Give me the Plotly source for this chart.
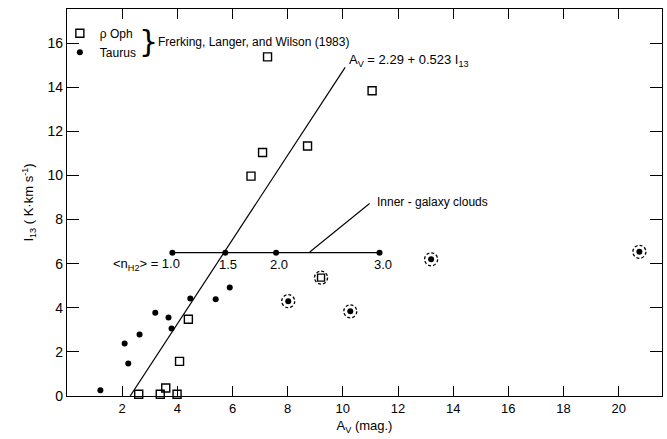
import plotly.graph_objects as go

# ---- data ----
taurus_x = [1.21, 2.09, 2.22, 2.63, 3.20, 3.68, 3.79, 4.47, 5.39, 5.90]
taurus_y = [0.26, 2.38, 1.47, 2.79, 3.78, 3.56, 3.06, 4.42, 4.39, 4.92]

oph_x = [2.60, 3.38, 3.58, 3.99, 4.08, 4.40, 6.67, 7.09, 8.72, 7.27, 11.06]
oph_y = [0.08, 0.08, 0.36, 0.08, 1.57, 3.48, 9.97, 11.04, 11.34, 15.38, 13.84]

circled_dot_x = [8.02, 10.27, 13.20, 20.75]
circled_dot_y = [4.30, 3.84, 6.20, 6.54]
circled_sq_x = [9.21]
circled_sq_y = [5.37]

inner_x = [3.82, 5.74, 7.58, 11.33]
inner_y = [6.5, 6.5, 6.5, 6.5]
inner_labels = ["1.0", "1.5", "2.0", "3.0"]

fit_a = 2.29
fit_b = 0.523
fit_I = [0.0, 14.9]

x_ticks = [2, 4, 6, 8, 10, 12, 14, 16, 18, 20]
y_ticks = [0, 2, 4, 6, 8, 10, 12, 14, 16]

FONT = "Liberation Sans"
BLACK = "black"

fig = go.Figure()

# fit line
fig.add_trace(go.Scatter(
    x=[fit_a + fit_b * i for i in fit_I], y=fit_I, mode="lines",
    line=dict(color=BLACK, width=1.2), showlegend=False, hoverinfo="skip"))

# inner-galaxy clouds line
fig.add_trace(go.Scatter(
    x=inner_x, y=inner_y, mode="lines+markers",
    line=dict(color=BLACK, width=1.2),
    marker=dict(symbol="circle", size=6, color=BLACK),
    showlegend=False, cliponaxis=False))

fig.add_trace(go.Scatter(
    x=oph_x, y=oph_y, mode="markers", name="\u03c1 Oph",
    marker=dict(symbol="square-open", size=8, color=BLACK, line=dict(width=1.4)),
    cliponaxis=False))

fig.add_trace(go.Scatter(
    x=taurus_x, y=taurus_y, mode="markers", name="Taurus",
    marker=dict(symbol="circle", size=6, color=BLACK),
    cliponaxis=False))

fig.add_trace(go.Scatter(
    x=circled_dot_x, y=circled_dot_y, mode="markers",
    marker=dict(symbol="circle", size=6, color=BLACK),
    showlegend=False, cliponaxis=False))

fig.add_trace(go.Scatter(
    x=circled_sq_x, y=circled_sq_y, mode="markers",
    marker=dict(symbol="square-open", size=7, color=BLACK, line=dict(width=1.4)),
    showlegend=False, cliponaxis=False))

shapes = []
for cx, cy in list(zip(circled_dot_x, circled_dot_y)) + list(zip(circled_sq_x, circled_sq_y)):
    shapes.append(dict(
        type="circle", xref="x", yref="y", xsizemode="pixel", ysizemode="pixel",
        xanchor=cx, yanchor=cy, x0=-6.5, x1=6.5, y0=-6.5, y1=6.5,
        line=dict(color=BLACK, width=1.3, dash="3px,2px")))

# leader line for inner-galaxy label
shapes.append(dict(type="line", xref="x", yref="y", x0=8.8, y0=6.53, x1=10.97, y1=8.73,
                   line=dict(color=BLACK, width=1.1)))

annotations = []
for i, (lx, lab) in enumerate(zip(inner_x, inner_labels)):
    if i == 0:
        annotations.append(dict(x=lx, y=inner_y[i], xref="x", yref="y",
                                text="&lt;n<sub>H2</sub>&gt; = " + lab,
                                showarrow=False, xanchor="right", yanchor="middle",
                                xshift=10, yshift=-12, font=dict(size=13)))
    else:
        annotations.append(dict(x=lx, y=inner_y[i], xref="x", yref="y", text=lab,
                                showarrow=False, xanchor="center", yanchor="middle",
                                xshift=3, yshift=-12, font=dict(size=13)))

annotations += [
    dict(x=11.18, y=8.78, xref="x", yref="y", text="Inner - galaxy clouds",
         showarrow=False, xanchor="left", yanchor="middle", font=dict(size=12)),
    dict(x=10.15, y=15.23, xref="x", yref="y",
         text="A<sub>V</sub> = 2.29 + 0.523 I<sub>13</sub>",
         showarrow=False, xanchor="left", yanchor="middle", font=dict(size=13)),
    dict(x=0.137, y=0.915, xref="paper", yref="paper", text="}",
         showarrow=False, xanchor="center", yanchor="middle",
         font=dict(size=30, family="DejaVu Sans")),
    dict(x=0.149, y=0.915, xref="paper", yref="paper",
         text="Frerking, Langer, and Wilson (1983)",
         showarrow=False, xanchor="left", yanchor="middle", font=dict(size=12)),
]

fig.update_layout(
    width=667, height=439,
    margin=dict(l=67, r=5, t=9, b=43),
    paper_bgcolor="white", plot_bgcolor="white",
    font=dict(family=FONT, size=13, color=BLACK),
    showlegend=True,
    legend=dict(x=-0.012, y=0.975, xanchor="left", yanchor="top",
                bgcolor="rgba(0,0,0,0)", font=dict(size=12),
                itemwidth=30, tracegroupgap=0),
    shapes=shapes, annotations=annotations,
)

fig.update_xaxes(
    range=[0, 21.57], tickvals=x_ticks, ticktext=[str(v) for v in x_ticks],
    ticks="inside", ticklen=10, tickwidth=1.2, tickcolor=BLACK,
    showline=True, linecolor=BLACK, linewidth=1.3, mirror="ticks",
    showgrid=False, zeroline=False,
    tickfont=dict(size=13),
    title=dict(text="A<sub>V</sub> (mag.)", font=dict(size=13), standoff=6))

fig.update_yaxes(
    range=[0, 17.55], tickvals=y_ticks, ticktext=[str(v) for v in y_ticks],
    ticks="inside", ticklen=12, tickwidth=1.2, tickcolor=BLACK,
    showline=True, linecolor=BLACK, linewidth=1.3, mirror="ticks",
    showgrid=False, zeroline=False,
    tickfont=dict(size=14),
    title=dict(text="I<sub>13</sub> ( K\u00b7km s<sup>-1</sup>)", font=dict(size=13), standoff=10))

fig.write_html("out.html")
